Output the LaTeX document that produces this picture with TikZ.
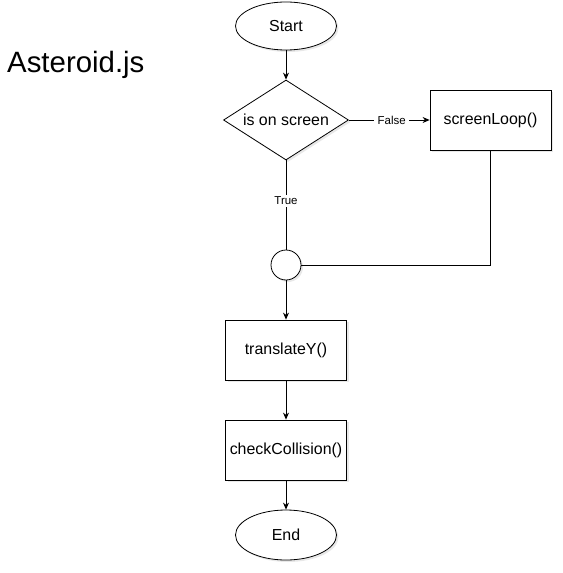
\documentclass[tikz,border=0pt]{standalone}
\usepackage{fontspec}
\setmainfont{Liberation Sans}
\usetikzlibrary{shapes.geometric}
\usetikzlibrary{arrows.meta}
\usetikzlibrary{shadows}

\begin{document}
\begin{tikzpicture}[x=1bp,y=-1bp]

\tikzstyle{flow}=[draw=black, fill=white, line width=0.8bp, font=\fontsize{16}{19}\selectfont, drop shadow={shadow xshift=2bp, shadow yshift=-2bp, opacity=0.18}]
\tikzstyle{terminal}=[flow, ellipse, minimum width=101bp, inner sep=0pt]
\tikzstyle{box}=[flow, rectangle, minimum width=121bp, minimum height=60bp, inner sep=0pt]
\tikzstyle{decision}=[flow, diamond, aspect=1.5625, minimum width=125bp, minimum height=80bp, inner sep=0pt]
\tikzstyle{line}=[draw=black, line width=0.8bp]
\tikzstyle{arrow}=[line, -{Stealth[length=7bp,width=6bp]}]
\tikzstyle{lbl}=[fill=white, font=\fontsize{11.5}{13}\selectfont, inner xsep=3.5bp, inner ysep=2bp]

\useasboundingbox (0,0) rectangle (563,573);

\node[anchor=base west, inner sep=0pt, font=\fontsize{29.5}{34}\selectfont] (title) at (7,73) {Asteroid.js};

\node[terminal, minimum height=48bp] (start) at (286,26) {Start};
\node[decision] (onscreen) at (286,120) {is on screen};
\node[box] (screenloop) at (490.5,120) {screenLoop()};
\node[flow, circle, minimum size=30bp, inner sep=0pt] (join) at (286,265) {};
\node[box] (translate) at (286,350) {translateY()};
\node[box] (collision) at (286,450) {checkCollision()};
\node[terminal, minimum height=50bp] (end) at (286,535) {End};

\draw[arrow] (start) -- (onscreen);
\draw[arrow] (onscreen) -- node[lbl, pos=0.53] {False} (screenloop);
\draw[line] (onscreen) -- node[lbl, pos=0.45] {True} (join);
\draw[line] (screenloop) |- (join);
\draw[arrow] (join) -- (translate);
\draw[arrow] (translate) -- (collision);
\draw[arrow] (collision) -- (end);
\end{tikzpicture}
\end{document}
